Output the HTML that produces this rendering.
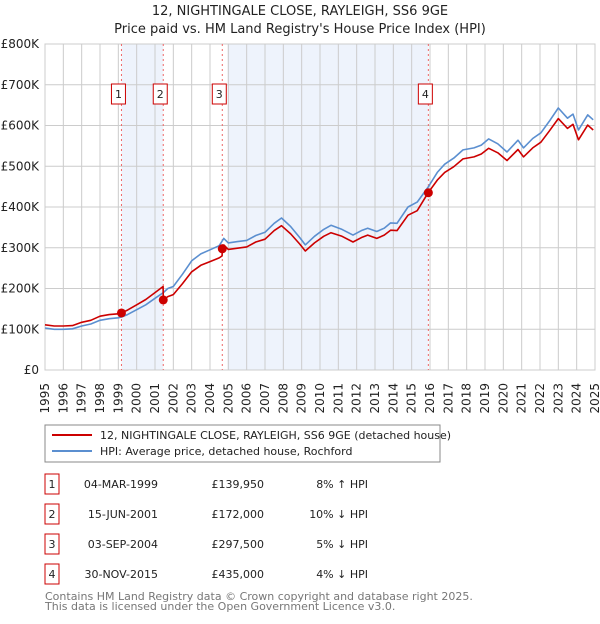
<!DOCTYPE html>
<html><head><meta charset="utf-8"><style>
body{margin:0;background:#fff;font-family:"DejaVu Sans","Liberation Sans",sans-serif;}
svg text{font-family:"DejaVu Sans","Liberation Sans",sans-serif;}
</style></head><body>
<svg id="c" width="600" height="620" xmlns="http://www.w3.org/2000/svg">
<text x="300" y="15" text-anchor="middle" font-size="13" fill="#222">12, NIGHTINGALE CLOSE, RAYLEIGH, SS6 9GE</text>
<text x="300" y="33" text-anchor="middle" font-size="13" fill="#222">Price paid vs. HM Land Registry's House Price Index (HPI)</text>
<g id="plot"></g>
<g>
<rect x="45" y="425" width="395" height="37" fill="#fff" stroke="#888"/>
<line x1="52" y1="435" x2="92" y2="435" stroke="#cc0000" stroke-width="2"/>
<text x="100" y="439" font-size="11" fill="#222">12, NIGHTINGALE CLOSE, RAYLEIGH, SS6 9GE (detached house)</text>
<line x1="52" y1="451" x2="92" y2="451" stroke="#5b8fd0" stroke-width="2"/>
<text x="100" y="455" font-size="11" fill="#222">HPI: Average price, detached house, Rochford</text>
</g>
<g id="table" font-size="11" fill="#222"></g>
<text x="45" y="600" font-size="11" fill="#777">Contains HM Land Registry data © Crown copyright and database right 2025.</text>
<text x="45" y="610" font-size="11" fill="#777">This data is licensed under the Open Government Licence v3.0.</text>
</svg>
<script>
const hpiYears=[1995,1995.5,1996,1996.5,1997,1997.5,1998,1998.5,1999,1999.17,1999.5,2000,2000.5,2001,2001.45,2001.7,2002,2002.5,2003,2003.5,2004,2004.5,2004.75,2005,2005.5,2006,2006.5,2007,2007.5,2007.9,2008.4,2008.9,2009.2,2009.7,2010.2,2010.6,2011.2,2011.8,2012.3,2012.6,2013.1,2013.5,2013.85,2014.2,2014.8,2015.3,2015.9,2016.4,2016.8,2017.3,2017.8,2018.4,2018.8,2019.2,2019.7,2020.2,2020.8,2021.1,2021.6,2022.05,2022.5,2023.0,2023.5,2023.8,2024.1,2024.6,2024.9];
const hpiValues=[103,100,100,101,108,113,122,126,128,130,136,148,160,176,190,200,205,235,268,285,295,305,323,312,315,318,330,338,360,373,352,325,307,328,345,355,345,331,343,348,340,348,361,360,400,412,449,485,505,520,540,545,552,567,555,535,564,545,568,582,610,643,618,628,589,626,614];
const priceYears=[1995,1995.5,1996,1996.5,1997,1997.5,1998,1998.5,1999,1999.17,1999.5,2000,2000.5,2001,2001.44,2001.45,2001.7,2002,2002.5,2003,2003.5,2004,2004.5,2004.66,2004.67,2004.75,2005,2005.5,2006,2006.5,2007,2007.5,2007.9,2008.4,2008.9,2009.2,2009.7,2010.2,2010.6,2011.2,2011.8,2012.3,2012.6,2013.1,2013.5,2013.85,2014.2,2014.8,2015.3,2015.9,2016.4,2016.8,2017.3,2017.8,2018.4,2018.8,2019.2,2019.7,2020.2,2020.8,2021.1,2021.6,2022.05,2022.5,2023.0,2023.5,2023.8,2024.1,2024.6,2024.9];
const priceValues=[111,108,108,109,117,122,132,136,138,140,147,160,173,190,205,172,180,185,212,241,257,266,275,280,297.5,307,296,299,302,314,321,342,354,334,309,292,312,328,337,328,314,326,331,323,331,343,342,380,391,435,466,485,499,518,523,530,544,533,514,541,523,545,559,586,617,593,603,565,601,589];
const saleLabels=["1","2","3","4"];
const saleYears=[1999.17,2001.45,2004.67,2015.91];
const salePrices=[139.95,172,297.5,435];
const saleDates=["04-MAR-1999","15-JUN-2001","03-SEP-2004","30-NOV-2015"];
const salePriceText=["£139,950","£172,000","£297,500","£435,000"];
const saleHpiText=["8% ↑ HPI","10% ↓ HPI","5% ↓ HPI","4% ↓ HPI"];
const yTicks=[0,100,200,300,400,500,600,700,800];
const yTickLabels=["£0","£100K","£200K","£300K","£400K","£500K","£600K","£700K","£800K"];
const xTicks=[1995,1996,1997,1998,1999,2000,2001,2002,2003,2004,2005,2006,2007,2008,2009,2010,2011,2012,2013,2014,2015,2016,2017,2018,2019,2020,2021,2022,2023,2024,2025];

const NS="http://www.w3.org/2000/svg";
const X0=45,X1=595,Y0=370,Y1=44;
const xs=y=>X0+(y-1995)/30*(X1-X0);
const ys=v=>Y0-v/800*(Y0-Y1);
const plot=document.getElementById('plot');
function mk(tag,attrs,parent){const e=document.createElementNS(NS,tag);for(const k in attrs)e.setAttribute(k,attrs[k]);(parent||plot).appendChild(e);return e;}

const shades=[[saleYears[0],saleYears[1]],[2004.95,saleYears[3]]];
shades.forEach(s=>{
 const r=mk('rect',{x:xs(s[0]),y:Y1,width:xs(s[1])-xs(s[0]),height:Y0-Y1,fill:'#eef3fc'});
 
 
});
xTicks.forEach(t=>{
 const l=mk('line',{x1:xs(t),x2:xs(t),y1:Y1,y2:Y0,stroke:'#cccccc','stroke-width':1});
 
 
 const tx=mk('text',{x:0,y:0,transform:`translate(${xs(t)+4},383) rotate(-90)`,'text-anchor':'end','font-size':12,fill:'#222'});
 tx.textContent=t;
 
 
});
yTicks.forEach((t,i)=>{
 const l=mk('line',{x1:X0,x2:X1,y1:ys(t),y2:ys(t),stroke:'#cccccc','stroke-width':1});
 
 
 const tx=mk('text',{x:39,y:ys(t)+4,'text-anchor':'end','font-size':12,fill:'#222'});
 tx.textContent=yTickLabels[i];
 
 
});
const border=mk('rect',{x:X0,y:Y1,width:X1-X0,height:Y0-Y1,fill:'none',stroke:'#cccccc'});


saleYears.forEach((y,i)=>{
 const l=mk('line',{x1:xs(y),x2:xs(y),y1:Y1,y2:Y0,stroke:'#ee6666','stroke-width':1,'stroke-dasharray':'2,3'});
 
 
 const bx=xs(y)-10;
 const r=mk('rect',{x:bx,y:84,width:14,height:20,fill:'#fff',stroke:'#cc0000'});
 
 
 const t=mk('text',{x:bx+7,y:98,'text-anchor':'middle','font-size':11,fill:'#222'});
 t.textContent=saleLabels[i];
 
 
});
function path(xsArr,vals,color,name){
 const d=xsArr.map((y,i)=>(i?'L':'M')+xs(y).toFixed(1)+','+ys(vals[i]).toFixed(1)).join('');
 const p=mk('path',{d:d,fill:'none',stroke:color,'stroke-width':1.6,'stroke-linejoin':'round'});
 
 
}
path(hpiYears,hpiValues,'#5b8fd0','hpi-line');
path(priceYears,priceValues,'#cc0000','price-paid-line');
saleYears.forEach((y,i)=>{
 const c=mk('circle',{cx:xs(y),cy:ys(salePrices[i]),r:4.5,fill:'#cc0000'});
 
 
});
const table=document.getElementById('table');
saleLabels.forEach((lab,i)=>{
 const cy=484+i*30;
 const r=mk('rect',{x:45,y:cy-10,width:14,height:20,fill:'#fff',stroke:'#cc0000'},table);
 
 
 const cols=[[52,lab,'middle'],[158,saleDates[i],'end'],[264,salePriceText[i],'end'],[368,saleHpiText[i],'end']];
 const names=['table-sale-number','table-sale-date','table-sale-price','table-sale-hpi-diff'];
 cols.forEach((c,j)=>{
  const t=mk('text',{x:c[0],y:cy+4,'text-anchor':c[2],'font-size':11,fill:'#222'},table);
  t.textContent=c[1];
  
  
 });
});
</script>
</body></html>
